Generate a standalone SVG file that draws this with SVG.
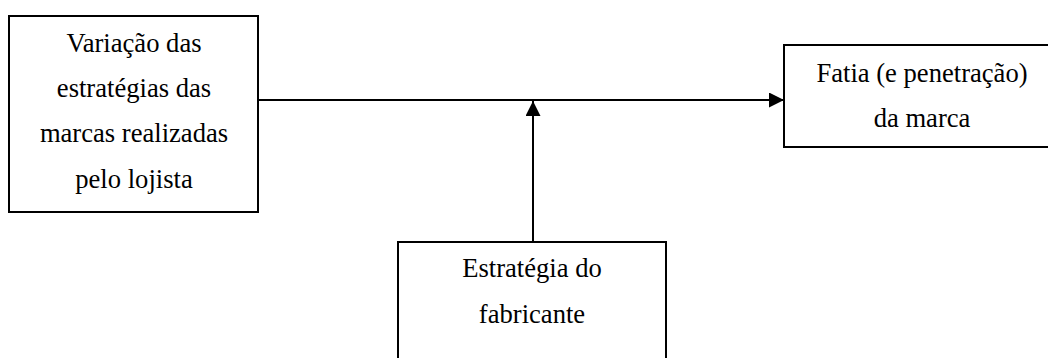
<svg xmlns="http://www.w3.org/2000/svg" width="1048" height="358" viewBox="0 0 1048 358">
<style>
.box{fill:#fff;stroke:#000;stroke-width:2}
.t{font-family:'Liberation Serif','DejaVu Serif',serif;font-size:26.6px;fill:#000;text-anchor:middle}
.c{stroke:#000;stroke-width:2;fill:none}
</style>
<defs>
<marker id="ah" markerUnits="userSpaceOnUse" markerWidth="16" markerHeight="16" refX="15" refY="7.5" orient="auto">
<path d="M0,0 L15,7.5 L0,15 Z" fill="#000"/>
</marker>
</defs>
<rect width="1048" height="358" fill="#fff"/>
<g id="connectors">
<line class="c" x1="258" y1="100" x2="784" y2="100" marker-end="url(#ah)"/>
<line class="c" x1="533" y1="242" x2="533" y2="101" marker-end="url(#ah)"/>
</g>
<g id="node-variacao">
<rect class="box" x="9" y="16" width="249" height="196"/>
<text class="t" x="134" y="52" font-family="Liberation Serif, serif">Variação das</text>
<text class="t" x="134" y="97" font-family="Liberation Serif, serif">estratégias das</text>
<text class="t" x="134" y="142" font-family="Liberation Serif, serif">marcas realizadas</text>
<text class="t" x="134" y="188" font-family="Liberation Serif, serif">pelo lojista</text>
</g>
<g id="node-fatia">
<rect class="box" x="784" y="45" width="280" height="102"/>
<text class="t" x="922" y="82" font-family="Liberation Serif, serif">Fatia (e penetração)</text>
<text class="t" x="922" y="127" font-family="Liberation Serif, serif">da marca</text>
</g>
<g id="node-fabricante">
<rect class="box" x="398" y="242" width="268" height="130"/>
<text class="t" x="532" y="277" font-family="Liberation Serif, serif">Estratégia do</text>
<text class="t" x="532" y="323" font-family="Liberation Serif, serif">fabricante</text>
</g>
</svg>
